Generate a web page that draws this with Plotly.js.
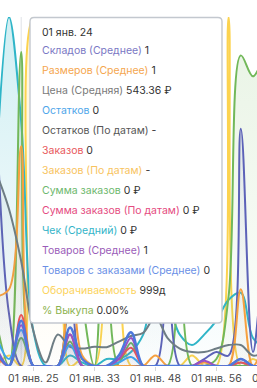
<!DOCTYPE html>
<html><head><meta charset="utf-8">
<script src="https://cdn.plot.ly/plotly-3.0.1.min.js"></script>
<style>html,body{margin:0;padding:0;overflow:hidden;background:#fff;width:257px;height:388px}#chart{width:300px;height:388px}</style>
</head><body><div id="chart"></div>
<script>
// ---- data ----
const categories = ["01 янв. 22","01 янв. 23","01 янв. 24","01 янв. 25","01 янв. 27","01 янв. 29","01 янв. 30","01 янв. 31","01 янв. 33","01 янв. 36","01 янв. 39","01 янв. 42","01 янв. 45","01 янв. 48","01 янв. 50","01 янв. 52","01 янв. 53","01 янв. 55","01 янв. 56","01 янв. 58","01 янв. 60","01 янв. 62","01 янв. 63","01 янв. 65","01 янв. 67"];
const tickLabels = ["01 янв. 25","01 янв. 33","01 янв. 48","01 янв. 56","01 янв. 65"];

const turnover   = [0,3,0,100,100,100,0,2,0,90,30,0,0,0,0,0,3,0,0,100,0,2,0,1,0];
const avgCheck   = [60,100,70,10,0,0,3,1,0,2,2,4,9,22,18,9,6,9,13,19,21,8,5,3,2];
const orderSum   = [12,0,90,0,0,0,85,20,0,75,0,0,0,0,0,80,0,0,2,20,89,83,88,70,60];
const warehouses = [70,15,0,0,0,0,70,0,0,0,0,0,0,0,85,0,0,2,4,3,68,4,30,10,5];
const sizes      = [20,22,63,0,0,0,40,3,0,0,0,0,0,3,0,0,0,1,0,0,22,0,5,2,0];
const price      = [55,45,30,10,1,9,5.5,5,5.5,5.4,7,8.6,9.5,14,8,5,4,4,5,6,6,3,4,5,5];
const buyoutPct  = [0,0,8,0,0,0,7,0,0,0,1,6.6,0,0,0,0,0,0,0,0,0,0,0,0,0];
const stock      = [8,2,10.3,0,0,0,6,0,0,0,1,2.6,0,0,0,0,0,0,0,0,1,0,0,0,0];
const orders     = [3,0,14.6,0,0,0,9,0,0,0,2,5.2,0,0,0,0,0,0,0,0,1,0,0,0,0];
const goods      = [5,0,11.7,0,0,0,9,0,0,0,2,8,0,0,0,0,0,1.5,0,0,2,0,0,0,0];
const goodsOrd   = [4,0,13,0,0,0,11,2,0,0,3,9.7,0,0,0,0,0,0,0,0,2,0,0,0,0];

const tooltipTitle = "01 янв. 24";
const tooltipLabels = ["Складов (Среднее)","Размеров (Среднее)","Цена (Средняя)","Остатков","Остатков (По датам)","Заказов","Заказов (По датам)","Сумма заказов","Сумма заказов (По датам)","Чек (Средний)","Товаров (Среднее)","Товаров с заказами (Среднее)","Оборачиваемость","% Выкупа"];
const tooltipValues = ["1","1","543.36 ₽","0","-","0","-","0 ₽","0 ₽","0 ₽","1","0","999д","0.00%"];
const tooltipColors = ["#7a78c4","#f5a64e","#7a7a7a","#4ea6ea","#555555","#e8585c","#f8c35e","#6db86d","#e54a80","#33b4c8","#9a5cb8","#6a8fe6","#fcd35c","#8cb24e"];

// ---- drawing ----
const W = 300, PT = 17, PB = 366, PH = PB - PT;
function rgba(hex, a){const n=parseInt(hex.slice(1),16);return `rgba(${n>>16},${(n>>8)&255},${n&255},${a})`;}
function mk(y, color, width, a){
  return {x: categories, y: y, type:'scatter', mode:'lines',
    line:{color:color, width:width||2, shape:'spline', smoothing:1},
    fill:'tozeroy',
    fillgradient:{type:'vertical', colorscale:[[0,rgba(color,0.01)],[1,rgba(color,a||0.2)]]},
    hoverinfo:'skip'};
}
const traces = [
  mk(turnover,'#fcd34f',2,0.22),
  mk(avgCheck,'#2fb5c8',2,0.22),
  mk(orderSum,'#72b85a',2,0.15),
  mk(warehouses,'#5c62b8',2,0.12),
  mk(sizes,'#f7a03f',2,0.12),
  mk(price,'#6e7d84',2,0.08),
  mk(buyoutPct,'#69b060',2,0.08),
  mk(stock,'#3aa6f0',2,0.08),
  mk(orders,'#ea5455',2,0.08),
  mk(goods,'#9b4fc4',2,0.08),
  mk(goodsOrd,'#4d78dc',2.5,0.08)
];

const px = x => x / W;
const py = y => (PB - y) / PH;
const bx0 = 30, bx1 = 222, by0 = 17.5, by1 = 323, r = 4;
const rx = r / W, ry = r / PH;
const X0 = px(bx0), X1 = px(bx1), Y0 = py(by0), Y1 = py(by1);
const boxPath = `M ${X0+rx},${Y0} L ${X1-rx},${Y0} Q ${X1},${Y0} ${X1},${Y0-ry} L ${X1},${Y1+ry} Q ${X1},${Y1} ${X1-rx},${Y1} L ${X0+rx},${Y1} Q ${X0},${Y1} ${X0},${Y1+ry} L ${X0},${Y0-ry} Q ${X0},${Y0} ${X0+rx},${Y0} Z`;

const FONT = 'Inter, "Noto Sans", sans-serif';
const annotations = [{
  xref:'paper', yref:'paper', x:px(40), y:py(32.7), xanchor:'left', yanchor:'middle',
  text: tooltipTitle, showarrow:false, font:{family:FONT, size:10.5, color:'#333'}
}];
tooltipLabels.forEach((lab,i)=>{
  annotations.push({
    xref:'paper', yref:'paper', x:px(40), y:py(50.7 + 20*i), xanchor:'left', yanchor:'middle',
    text:`<span style="color:${tooltipColors[i]}">${lab}</span> ${tooltipValues[i]}`,
    showarrow:false, font:{family:FONT, size:10.5, color:'#333'}
  });
});

const layout = {
  width: W, height: 388,
  margin:{l:0, r:0, t:PT, b:388-PB, pad:0},
  paper_bgcolor:'#fff', plot_bgcolor:'#fff',
  showlegend:false, hovermode:false,
  xaxis:{type:'category', range:[0.262, 0.262 + W/12.2], tickmode:'array', tickvals:tickLabels, ticktext:tickLabels,
    ticks:'outside', ticklen:4, tickcolor:'#d6d6d6', showgrid:false, zeroline:false, showline:false,
    ticklabelstandoff:-2,
    tickfont:{family:FONT, size:10.5, color:'#4a4a4a'}, fixedrange:true},
  yaxis:{range:[0,100], tickmode:'array', tickvals:[100], showticklabels:false, showgrid:true,
    gridcolor:'#e3e3e3', griddash:'dash', zeroline:false, showline:false, fixedrange:true},
  shapes:[
    {type:'line', xref:'paper', yref:'paper', x0:px(21.2), x1:px(21.2), y0:0, y1:1, line:{color:'#dfe3e7', width:1}, layer:'below'},
    {type:'path', xref:'paper', yref:'paper', path:boxPath, fillcolor:'#ffffff', line:{color:'#c3c8cf', width:1.4}, layer:'above'}
  ],
  annotations: annotations
};
Plotly.newPlot('chart', traces, layout, {staticPlot:true, displayModeBar:false});
</script></body></html>
